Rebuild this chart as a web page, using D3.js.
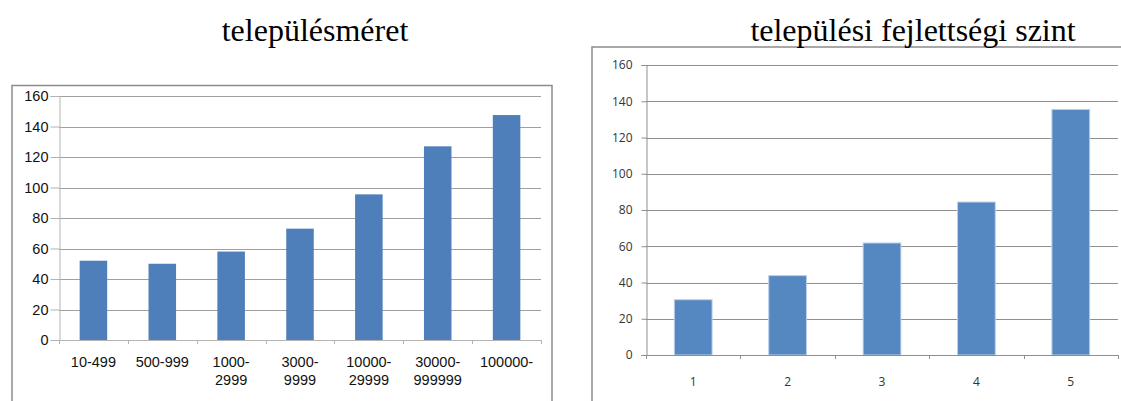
<!DOCTYPE html>
<html>
<head>
<meta charset="utf-8">
<script src="https://cdn.jsdelivr.net/npm/d3@7"></script>
<style>
  html, body { margin: 0; padding: 0; background: #fff; }
  svg { display: block; }
</style>
</head>
<body>
<svg id="chart" width="1121" height="401"></svg>
<script>
// Settlement size categories and values
const sizeCategories = ["10-499", "500-999", "1000-\n2999", "3000-\n9999", "10000-\n29999", "30000-\n999999", "100000-"];
const sizeValues = [52, 50, 58, 73, 95.5, 127, 147.5];

// Settlement development level categories and values
const levelCategories = ["1", "2", "3", "4", "5"];
const levelValues = [30.5, 43.8, 61.8, 84.4, 135.5];

const yTicks = [0, 20, 40, 60, 80, 100, 120, 140, 160];

const svg = d3.select("#chart");

function drawPanel(opts) {
  const g = svg.append("g");

  // outer frame
  g.append("rect")
    .attr("x", opts.frame.x).attr("y", opts.frame.y)
    .attr("width", opts.frame.w).attr("height", opts.frame.h)
    .attr("fill", "#fff").attr("stroke", opts.frameColor).attr("stroke-width", 1.5);

  // title
  svg.append("text")
    .attr("x", opts.title.x).attr("y", opts.title.y)
    .attr("text-anchor", "middle")
    .attr("font-family", "'Liberation Serif', 'Times New Roman', serif")
    .attr("font-size", opts.title.size)
    .attr("fill", "#000")
    .text(opts.title.text);

  const x = d3.scaleBand()
    .domain(opts.categories)
    .range([opts.left, opts.right])
    .paddingInner(0.6).paddingOuter(0.3);

  const y = d3.scaleLinear().domain([0, 160]).range([opts.bottom, opts.top]);

  // gridlines
  g.append("g").selectAll("line")
    .data(yTicks.filter(d => d > 0))
    .join("line")
    .attr("x1", opts.left).attr("x2", opts.right)
    .attr("y1", d => Math.round(y(d)) + 0.5).attr("y2", d => Math.round(y(d)) + 0.5)
    .attr("stroke", opts.gridColor).attr("stroke-width", 1);

  // bars
  g.append("g").selectAll("rect")
    .data(opts.values)
    .join("rect")
    .attr("x", (d, i) => x(opts.categories[i]))
    .attr("y", d => y(d))
    .attr("width", x.bandwidth())
    .attr("height", d => y(0) - y(d))
    .attr("fill", opts.barColor)
    .attr("stroke", opts.barStroke || "none")
    .attr("stroke-width", opts.barStroke ? 1 : 0);

  // y axis
  const yAxis = d3.axisLeft(y).tickValues(yTicks).tickSize(opts.tickLen).tickPadding(opts.tickPad);
  const ya = g.append("g")
    .attr("transform", `translate(${opts.left + 0.5},0)`)
    .call(yAxis);
  ya.select(".domain").attr("stroke", opts.axisColor);
  ya.selectAll(".tick line").attr("stroke", opts.axisColor);
  ya.selectAll(".tick text")
    .attr("font-family", opts.font).attr("font-size", opts.fontSize)
    .attr("fill", opts.textColor);

  // x axis baseline with tick marks at category boundaries
  const step = x.step();
  const xa = g.append("g");
  xa.append("line")
    .attr("x1", opts.left).attr("x2", opts.right)
    .attr("y1", Math.round(y(0)) + 0.5).attr("y2", Math.round(y(0)) + 0.5)
    .attr("stroke", opts.axisColor);
  xa.selectAll("line.tk")
    .data(d3.range(opts.categories.length + 1))
    .join("line").attr("class", "tk")
    .attr("x1", i => Math.round(opts.left + i * step) + 0.5)
    .attr("x2", i => Math.round(opts.left + i * step) + 0.5)
    .attr("y1", y(0)).attr("y2", y(0) + opts.xTickLen)
    .attr("stroke", opts.axisColor);

  // category labels (may wrap to two lines)
  const lbl = xa.selectAll("text")
    .data(opts.categories)
    .join("text")
    .attr("x", d => x(d) + x.bandwidth() / 2)
    .attr("y", opts.labelY)
    .attr("text-anchor", "middle")
    .attr("font-family", opts.font).attr("font-size", opts.fontSize)
    .attr("fill", opts.textColor);
  lbl.each(function(d) {
    const lines = d.split("\n");
    d3.select(this).selectAll("tspan")
      .data(lines).join("tspan")
      .attr("x", d3.select(this).attr("x"))
      .attr("dy", (t, i) => i === 0 ? 0 : opts.lineHeight)
      .text(t => t);
  });
}

drawPanel({
  frame: { x: 12, y: 85.5, w: 540, h: 330 },
  frameColor: "#8c8c8c",
  title: { x: 315, y: 41, size: 32, text: "településméret" },
  categories: sizeCategories,
  values: sizeValues,
  left: 59, right: 541, top: 96, bottom: 340,
  gridColor: "#a0a0a0",
  axisColor: "#b3b3b3",
  barColor: "#4f7fba",
  tickLen: 9, tickPad: 2, xTickLen: 4,
  font: "'Liberation Sans', Arial, sans-serif",
  fontSize: 14.5,
  textColor: "#111",
  labelY: 367, lineHeight: 18
});

drawPanel({
  frame: { x: 592, y: 47, w: 560, h: 380 },
  frameColor: "#8c8c8c",
  title: { x: 913, y: 41, size: 32, text: "települési fejlettségi szint" },
  categories: levelCategories,
  values: levelValues,
  left: 646, right: 1118, top: 65, bottom: 355,
  gridColor: "#8f8f8f",
  axisColor: "#8f8f8f",
  barColor: "#5587c1",
  barStroke: "#bcd0ea",
  tickLen: 5, tickPad: 9, xTickLen: 4,
  font: "'Open Sans', 'Noto Sans', sans-serif",
  fontSize: 12,
  textColor: "#333",
  labelY: 386, lineHeight: 15
});
</script>
</body>
</html>
